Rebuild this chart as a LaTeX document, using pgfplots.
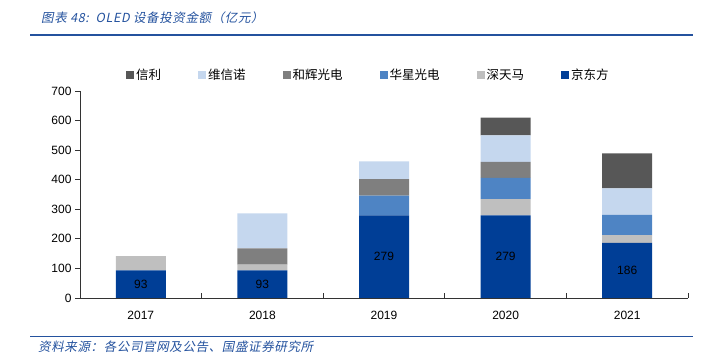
\documentclass[border=0pt]{standalone}
\usepackage{pgfplots}
\pgfplotsset{compat=1.18}
\usepackage{fontspec}
\setmainfont{Liberation Sans}
\newfontfamily\cjk{Noto Sans CJK SC}
\newfontfamily\cjkit{Noto Sans CJK SC}[FakeSlant=0.2, LetterSpace=5]
\definecolor{cjdf}{HTML}{003E96}
\definecolor{cstm}{HTML}{BFBFBF}
\definecolor{chx}{HTML}{4E84C4}
\definecolor{chh}{HTML}{7F7F7F}
\definecolor{cwxn}{HTML}{C5D7EE}
\definecolor{cxl}{HTML}{575757}
\definecolor{tblue}{HTML}{24529E}
\definecolor{axcol}{HTML}{333333}
\begin{document}
\begin{tikzpicture}
\path[use as bounding box] (0pt,0pt) rectangle (703pt,355pt);
\node[anchor=west, text=tblue, font=\cjkit\fontsize{12.5}{14}\selectfont, inner sep=0pt] at (41pt,337pt) {图表 48:\ \ OLED 设备投资金额（亿元）};
\draw[tblue, line width=1.2pt] (30pt,320pt) -- (693pt,320pt);
\draw[tblue, line width=0.8pt] (30pt,19pt) -- (693pt,19pt);
\node[anchor=west, text=tblue, font=\cjkit\fontsize{12.5}{14}\selectfont, inner sep=0pt] at (38pt,8pt) {资料来源：各公司官网及公告、国盛证券研究所};
\begin{axis}[
  at={(80pt,57pt)}, anchor=south west,
  scale only axis, width=608pt, height=207pt,
  ybar stacked, bar width=50pt,
  ymin=0, ymax=700, ytick={0,100,...,700},
  xmin=-0.5, xmax=4.5, xtick={0,1,2,3,4},
  xticklabels={2017,2018,2019,2020,2021},
  xticklabel shift=5pt,
  axis lines*=left,
  axis line style={axcol, line width=0.8pt},
  xtick style={draw=none},
  ytick style={draw=axcol, line width=0.8pt},
  tick align=outside, major tick length=5pt,
  extra x ticks={0.5,1.5,2.5,3.5,4.5},
  extra x tick labels={},
  extra x tick style={tick align=inside, xtick style={draw=axcol, line width=0.8pt}},
  tick label style={font=\fontsize{12}{14}\selectfont, text=black},
  /pgf/number format/assume math mode=true,
  legend style={at={(0.4745,1.077)}, anchor=center, draw=none, fill=none,
    legend columns=6, font=\cjk\fontsize{12.5}{14}\selectfont,
    /tikz/every even column/.append style={column sep=35pt}},
  reverse legend,
  legend image code/.code={\fill[#1] (0pt,-4pt) rectangle (8pt,4pt);},
]
\addplot[fill=cjdf, draw=none] coordinates {(0,93) (1,93) (2,279) (3,279) (4,186)};
\addlegendentry{京东方}
\addplot[fill=cstm, draw=none] coordinates {(0,49) (1,20) (2,0) (3,55) (4,27)};
\addlegendentry{深天马}
\addplot[fill=chx, draw=none] coordinates {(0,0) (1,0) (2,67) (3,72) (4,68)};
\addlegendentry{华星光电}
\addplot[fill=chh, draw=none] coordinates {(0,0) (1,55) (2,56) (3,54) (4,0)};
\addlegendentry{和辉光电}
\addplot[fill=cwxn, draw=none] coordinates {(0,0) (1,118) (2,60) (3,90) (4,90)};
\addlegendentry{维信诺}
\addplot[fill=cxl, draw=none] coordinates {(0,0) (1,0) (2,0) (3,60) (4,118)};
\addlegendentry{信利}
\coordinate (l0) at (axis cs:0,46.5);
\coordinate (l1) at (axis cs:1,46.5);
\coordinate (l2) at (axis cs:2,139.5);
\coordinate (l3) at (axis cs:3,139.5);
\coordinate (l4) at (axis cs:4,93);
\end{axis}
\begin{scope}[every node/.style={font=\fontsize{12}{14}\selectfont, text=black}]
\node at (l0) {93};
\node at (l1) {93};
\node at (l2) {279};
\node at (l3) {279};
\node at (l4) {186};
\end{scope}
\end{tikzpicture}
\end{document}
